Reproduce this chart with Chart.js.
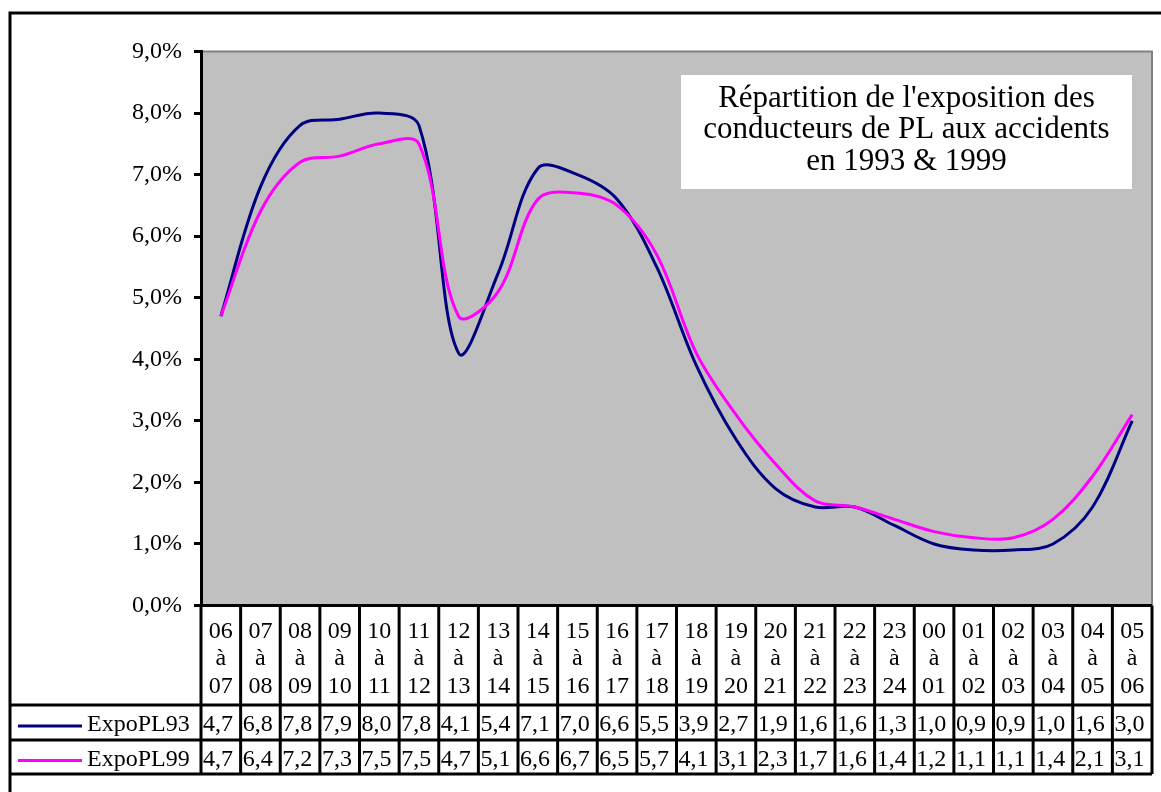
<!DOCTYPE html>
<html>
<head>
<meta charset="utf-8">
<script src="https://cdn.jsdelivr.net/npm/chart.js@4/dist/chart.umd.min.js"></script>
<style>
  html, body { margin: 0; padding: 0; background: #fff; }
  canvas { display: block; }
</style>
</head>
<body>
<canvas id="myChart" width="1161" height="792"></canvas>
<script>
const categories = [
  '06 à 07', '07 à 08', '08 à 09', '09 à 10', '10 à 11', '11 à 12',
  '12 à 13', '13 à 14', '14 à 15', '15 à 16', '16 à 17', '17 à 18',
  '18 à 19', '19 à 20', '20 à 21', '21 à 22', '22 à 23', '23 à 24',
  '00 à 01', '01 à 02', '02 à 03', '03 à 04', '04 à 05', '05 à 06'
];

const expo93 = [4.7, 6.8, 7.8, 7.9, 8.0, 7.8, 4.1, 5.4, 7.1, 7.0, 6.6, 5.5,
                3.9, 2.7, 1.9, 1.6, 1.6, 1.3, 1.0, 0.9, 0.9, 1.0, 1.6, 3.0];
const expo99 = [4.7, 6.4, 7.2, 7.3, 7.5, 7.5, 4.7, 5.1, 6.6, 6.7, 6.5, 5.7,
                4.1, 3.1, 2.3, 1.7, 1.6, 1.4, 1.2, 1.1, 1.1, 1.4, 2.1, 3.1];

const titleLines = [
  "Répartition de l'exposition des",
  'conducteurs de PL aux accidents',
  'en 1993 & 1999'
];

const serif = '"Liberation Serif", "Times New Roman", serif';

function fmt(v) {
  return v.toFixed(1).replace('.', ',');
}

// grey plot area, title box, data table under the axis
const tablePlugin = {
  id: 'dataTable',
  beforeDraw(chart) {
    const { ctx, chartArea: a } = chart;
    ctx.save();
    ctx.fillStyle = '#c0c0c0';
    ctx.fillRect(a.left, a.top, a.right - a.left, a.bottom - a.top);
    ctx.strokeStyle = '#808080';
    ctx.lineWidth = 2;
    ctx.beginPath();
    ctx.moveTo(a.left, a.top);
    ctx.lineTo(a.right, a.top);
    ctx.lineTo(a.right, a.bottom);
    ctx.stroke();

    // title box
    ctx.fillStyle = '#fff';
    ctx.fillRect(681, 75, 451, 114);
    ctx.fillStyle = '#000';
    ctx.font = '31px ' + serif;
    ctx.textAlign = 'center';
    ctx.textBaseline = 'alphabetic';
    titleLines.forEach((t, i) => ctx.fillText(t, 906.5, 106.5 + i * 31.8));
    ctx.restore();
  },
  afterDraw(chart) {
    const { ctx, chartArea: a } = chart;
    const x = chart.scales.x;
    const n = categories.length;
    const edges = [];
    for (let i = 0; i <= n; i++) {
      if (i === 0) edges.push(a.left);
      else if (i === n) edges.push(a.right);
      else edges.push((x.getPixelForTick(i - 1) + x.getPixelForTick(i)) / 2);
    }
    const rows = [x.bottom, x.bottom + 35, x.bottom + 69];
    const frameX = 10;

    ctx.save();
    // outer frame
    ctx.strokeStyle = '#000';
    ctx.lineWidth = 3;
    ctx.beginPath();
    ctx.moveTo(frameX, 792);
    ctx.lineTo(frameX, 13);
    ctx.lineTo(1161, 13);
    ctx.stroke();

    // table grid
    ctx.beginPath();
    ctx.moveTo(a.left, a.bottom);
    ctx.lineTo(a.right, a.bottom);
    rows.forEach(y => {
      ctx.moveTo(frameX, y);
      ctx.lineTo(a.right, y);
    });
    edges.forEach(ex => {
      ctx.moveTo(ex, a.bottom);
      ctx.lineTo(ex, rows[2]);
    });
    ctx.stroke();

    // series rows
    const series = [
      { name: 'ExpoPL93', color: '#000080', values: expo93 },
      { name: 'ExpoPL99', color: '#ff00ff', values: expo99 }
    ];
    ctx.font = '24px ' + serif;
    ctx.textBaseline = 'alphabetic';
    series.forEach((s, r) => {
      const mid = (rows[r] + rows[r + 1]) / 2;
      ctx.strokeStyle = s.color;
      ctx.lineWidth = 3;
      ctx.beginPath();
      ctx.moveTo(18, mid + 3.5);
      ctx.lineTo(82, mid + 3.5);
      ctx.stroke();
      ctx.fillStyle = '#000';
      ctx.textAlign = 'left';
      ctx.fillText(s.name, 87, mid + 8.5);
      s.values.forEach((v, i) => {
        ctx.fillText(fmt(v), edges[i] + 2, mid + 8.5);
      });
    });
    ctx.restore();
  }
};

const data = {
  labels: categories,
  datasets: [
    {
      label: 'ExpoPL93',
      data: expo93,
      borderColor: '#000080',
      backgroundColor: '#000080',
      borderWidth: 3,
      pointRadius: 0,
      tension: 0.35,
      order: 2
    },
    {
      label: 'ExpoPL99',
      data: expo99,
      borderColor: '#ff00ff',
      backgroundColor: '#ff00ff',
      borderWidth: 3,
      pointRadius: 0,
      tension: 0.35,
      order: 1
    }
  ]
};

const config = {
  type: 'line',
  data: data,
  options: {
    responsive: false,
    animation: false,
    devicePixelRatio: 1,
    layout: { padding: { left: 0, top: 51.5, right: 9, bottom: 87 } },
    plugins: {
      legend: { display: false },
      tooltip: { enabled: false }
    },
    scales: {
      x: {
        offset: true,
        grid: { display: false },
        border: { display: false },
        ticks: {
          color: '#000',
          padding: 4,
          maxRotation: 0,
          autoSkip: false,
          font: { family: serif, size: 24, lineHeight: 1.15 },
          callback: function (value) {
            return this.getLabelForValue(value).split(' ');
          }
        },
        afterFit: s => { s.height = 99.5; }
      },
      y: {
        min: 0,
        max: 9,
        grid: {
          drawOnChartArea: false,
          drawTicks: true,
          tickLength: 7,
          lineWidth: 3,
          color: '#000'
        },
        border: { display: true, color: '#000', width: 3 },
        ticks: {
          stepSize: 1,
          color: '#000',
          padding: 12,
          font: { family: serif, size: 24 },
          callback: v => fmt(v) + '%'
        },
        afterFit: s => { s.width = 201; }
      }
    }
  },
  plugins: [tablePlugin]
};

const myChart = new Chart(document.getElementById('myChart'), config);
</script>
</body>
</html>
